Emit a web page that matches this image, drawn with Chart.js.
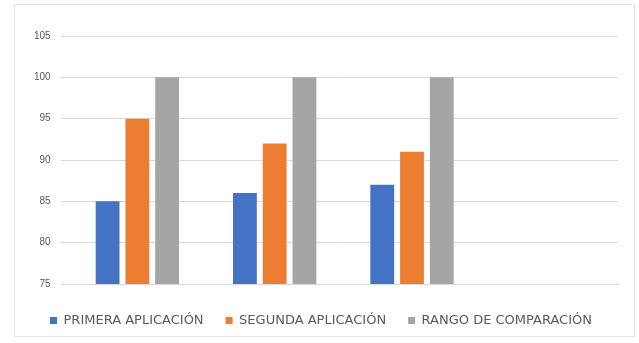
<!DOCTYPE html>
<html>
<head>
<meta charset="utf-8">
<script src="https://cdn.jsdelivr.net/npm/chart.js@4"></script>
<style>
  html, body { margin: 0; padding: 0; background: #fff; }
  #wrap { position: relative; width: 639px; height: 343px; }
  #frame { position: absolute; left: 14px; top: 4px; right: 4px; bottom: 6px; border: 1px solid #e4e4e4; }
</style>
</head>
<body>
<div id="wrap">
  <div id="frame"></div>
  <canvas id="chart" width="639" height="343"></canvas>
</div>
<script>
/* ── datos ── */
const categories = ['1', '2', '3', '4'];
const primera    = [85, 86, 87, null];
const segunda    = [95, 92, 91, null];
const rango      = [100, 100, 100, null];
const yTicks     = [75, 80, 85, 90, 95, 100, 105];

/* ── colores ── */
const C = {
  blue  : '#4472c4',
  orange: '#ed7d31',
  gray  : '#a5a5a5',
  grid  : '#d9d9d9',
  font  : '#595959',
};

const ds = (label, data, color) => ({
  label,
  data,
  backgroundColor: color,
  borderWidth: 0,
  barPercentage: 0.8,
  categoryPercentage: 0.65,
});

new Chart(document.getElementById('chart'), {
  type: 'bar',
  data: {
    labels: categories,
    datasets: [
      ds('PRIMERA APLICACIÓN', primera, C.blue),
      ds('SEGUNDA APLICACIÓN', segunda, C.orange),
      ds('RANGO DE COMPARACIÓN', rango, C.gray),
    ],
  },
  options: {
    responsive: false,
    animation: false,
    layout: { padding: { left: 24, right: 21, top: 36, bottom: 6 } },
    plugins: {
      tooltip: { enabled: false },
      legend: {
        position: 'bottom',
        labels: {
          color: C.font,
          font: { family: 'DejaVu Sans', size: 13 },
          boxWidth: 7,
          boxHeight: 7,
          padding: 22,
        },
      },
    },
    scales: {
      x: {
        grid: { display: false },
        border: { color: C.grid },
        ticks: { display: false },
      },
      y: {
        min: yTicks[0],
        max: yTicks[yTicks.length - 1],
        afterBuildTicks: axis => { axis.ticks = yTicks.map(v => ({ value: v })); },
        grid: { color: C.grid },
        border: { display: false },
        ticks: {
          color: C.font,
          font: { family: 'Liberation Sans', size: 10 },
          padding: 10,
        },
      },
    },
  },
});
</script>
</body>
</html>
